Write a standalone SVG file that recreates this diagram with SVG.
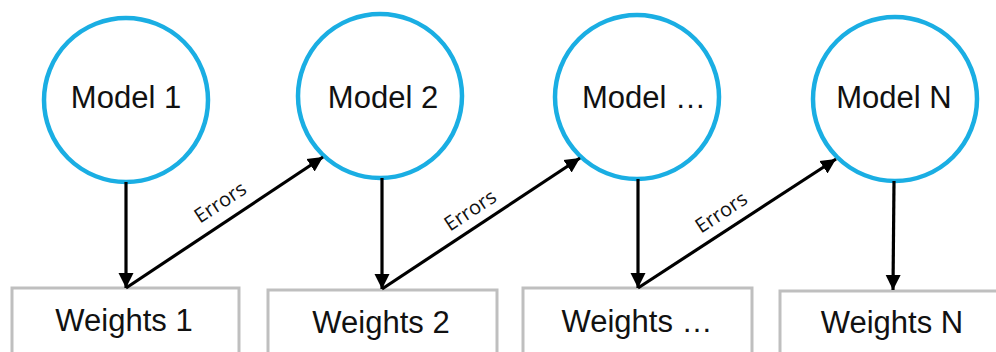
<svg xmlns="http://www.w3.org/2000/svg" width="996" height="352" viewBox="0 0 996 352">
  <style>
    .model circle { fill: #ffffff; stroke: #1aaee3; stroke-width: 4.5; }
    .weights rect { fill: #ffffff; stroke: #bfbfbf; stroke-width: 3; }
    .lbl { font-family: "Liberation Sans", Arial, sans-serif; font-size: 31px; fill: #111111; text-anchor: middle; }
    .err { font-family: "Open Sans", "Noto Sans", sans-serif; font-size: 20px; fill: #111111; text-anchor: middle; }
    .conn line { stroke: #000000; stroke-width: 3.2; marker-end: url(#arrow); }
  </style>
  <defs>
    <marker id="arrow" markerUnits="userSpaceOnUse" markerWidth="16" markerHeight="16" refX="15" refY="8" orient="auto">
      <path d="M0,0.5 L15,8 L0,15.5 z" fill="#000000"/>
    </marker>
  </defs>
  <rect width="996" height="352" fill="#ffffff"/>

  <g id="weights1" class="weights">
    <rect x="12" y="288" width="227" height="80"/>
    <text class="lbl" x="124" y="331">Weights 1</text>
  </g>
  <g id="weights2" class="weights">
    <rect x="268" y="290" width="229" height="80"/>
    <text class="lbl" x="381" y="333">Weights 2</text>
  </g>
  <g id="weights3" class="weights">
    <rect x="523" y="288" width="229" height="80"/>
    <text class="lbl" x="637" y="332">Weights …</text>
  </g>
  <g id="weightsN" class="weights">
    <rect x="780" y="291" width="240" height="80"/>
    <text class="lbl" x="892" y="333">Weights N</text>
  </g>

  <g id="model1" class="model">
    <circle cx="126" cy="100" r="82"/>
    <text class="lbl" x="126" y="108">Model 1</text>
  </g>
  <g id="model2" class="model">
    <circle cx="380" cy="96" r="82"/>
    <text class="lbl" x="383" y="108">Model 2</text>
  </g>
  <g id="model3" class="model">
    <circle cx="637" cy="97" r="82"/>
    <text class="lbl" x="644" y="108">Model …</text>
  </g>
  <g id="modelN" class="model">
    <circle cx="895" cy="99" r="82"/>
    <text class="lbl" x="894" y="108">Model N</text>
  </g>

  <g id="connectors" class="conn">
    <line x1="126" y1="182" x2="126" y2="288"/>
    <line x1="382" y1="178" x2="382" y2="289"/>
    <line x1="638" y1="179" x2="638" y2="288"/>
    <line x1="894" y1="181" x2="893" y2="290"/>
    <line x1="126" y1="288" x2="323" y2="157"/>
    <line x1="382" y1="289" x2="580" y2="158"/>
    <line x1="638" y1="288" x2="836" y2="159"/>
    <text class="err" x="224" y="208" transform="rotate(-33.4 224 208)">Errors</text>
    <text class="err" x="474" y="216" transform="rotate(-33.4 474 216)">Errors</text>
    <text class="err" x="725" y="218" transform="rotate(-33.4 725 218)">Errors</text>
  </g>
</svg>
